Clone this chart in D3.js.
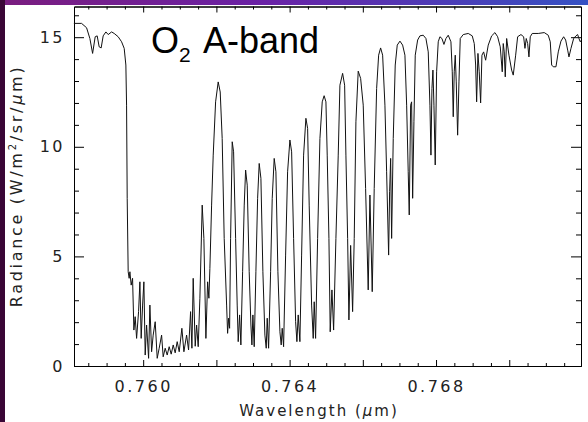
<!DOCTYPE html>
<html>
<head>
<meta charset="utf-8">
<script src="https://cdn.jsdelivr.net/npm/d3@7"></script>
<style>
  body { margin: 0; background: #fff; }
  svg { display: block; }
</style>
</head>
<body>
<div class="grafico"></div>
<script>
// wavelength (um)
const wavelength = [
  0.758107,0.758317,0.758454,0.758544,0.758618,0.758689,0.758743,0.758798,0.758852,0.758907,
  0.758981,0.759044,0.759137,0.759208,0.759317,0.759410,0.759481,0.759527,0.759546,0.759563,
  0.759590,0.759617,0.759637,0.759672,0.759710,0.759746,0.759781,0.759820,0.759874,0.759910,
  0.759945,0.759984,0.760019,0.760055,0.760093,0.760148,0.760183,0.760230,0.760273,0.760328,
  0.760383,0.760437,0.760503,0.760546,0.760601,0.760656,0.760710,0.760765,0.760820,0.760874,
  0.760929,0.760984,0.761057,0.761112,0.761186,0.761240,0.761295,0.761331,0.761366,0.761421,
  0.761459,0.761503,0.761549,0.761612,0.761658,0.761713,0.761760,0.761795,0.761822,0.761869,
  0.761913,0.761978,0.762049,0.762104,0.762158,0.762213,0.762279,0.762306,0.762333,0.762361,
  0.762388,0.762432,0.762470,0.762525,0.762568,0.762596,0.762634,0.762669,0.762716,0.762760,
  0.762798,0.762842,0.762896,0.762943,0.762970,0.762997,0.763033,0.763079,0.763126,0.763169,
  0.763216,0.763270,0.763325,0.763361,0.763388,0.763426,0.763481,0.763525,0.763579,0.763626,
  0.763680,0.763735,0.763770,0.763798,0.763836,0.763891,0.763945,0.764008,0.764055,0.764109,
  0.764164,0.764199,0.764235,0.764281,0.764328,0.764382,0.764445,0.764492,0.764535,0.764601,
  0.764645,0.764672,0.764710,0.764765,0.764828,0.764891,0.764943,0.764992,0.765027,0.765074,
  0.765109,0.765156,0.765202,0.765265,0.765328,0.765374,0.765448,0.765503,0.765538,0.765585,
  0.765620,0.765667,0.765721,0.765765,0.765811,0.765874,0.765940,0.766011,0.766076,0.766147,
  0.766194,0.766257,0.766311,0.766377,0.766432,0.766486,0.766541,0.766604,0.766650,0.766705,
  0.766732,0.766760,0.766787,0.766831,0.766885,0.766940,0.767014,0.767087,0.767150,0.767197,
  0.767240,0.767268,0.767306,0.767333,0.767361,0.767396,0.767432,0.767497,0.767560,0.767650,
  0.767724,0.767787,0.767833,0.767861,0.767888,0.767915,0.767943,0.767978,0.768016,0.768060,
  0.768106,0.768161,0.768216,0.768270,0.768333,0.768407,0.768443,0.768470,0.768497,0.768525,
  0.768552,0.768590,0.768626,0.768661,0.768743,0.768880,0.768989,0.769044,0.769082,0.769109,
  0.769145,0.769180,0.769218,0.769254,0.769300,0.769355,0.769426,0.769519,0.769609,0.769683,
  0.769754,0.769809,0.769836,0.769863,0.769891,0.769929,0.769992,0.770065,0.770109,0.770175,
  0.770229,0.770320,0.770393,0.770429,0.770464,0.770503,0.770538,0.770574,0.770628,0.770792,
  0.770956,0.771065,0.771120,0.771158,0.771202,0.771276,0.771339,0.771412,0.771486,0.771541,
  0.771596,0.771631,0.771686,0.771759,0.771822,0.771869,0.771904,0.771940,0.771959
];
// radiance (W/m2/sr/um)
const radiance = [
  15.63,15.63,15.43,14.94,14.26,15.02,15.06,14.56,14.51,15.06,
  15.24,15.12,15.24,15.17,15.02,14.79,14.49,13.73,11.90,7.65,
  4.30,4.00,4.30,3.69,4.00,1.64,2.25,1.26,2.48,3.84,
  1.26,2.78,3.84,0.50,1.87,0.35,2.78,0.65,1.41,2.02,
  0.35,0.81,1.41,0.42,0.81,0.50,0.88,0.54,0.96,0.60,
  1.11,0.65,1.72,0.65,1.41,0.73,2.48,0.81,4.00,0.90,
  1.87,0.88,3.09,7.34,5.82,1.26,3.84,3.09,4.45,7.34,
  9.62,12.05,12.96,12.50,10.38,5.82,2.78,1.49,2.18,1.72,
  5.82,10.23,9.77,5.82,2.78,1.11,2.33,0.96,4.30,7.34,
  8.94,8.25,4.30,1.87,0.96,2.33,0.88,4.30,7.65,9.24,
  8.56,4.30,1.41,0.81,2.18,0.81,4.30,7.65,9.47,8.86,
  4.30,1.56,0.96,1.72,0.88,5.06,8.86,10.31,9.77,5.82,
  2.02,1.11,2.33,1.11,5.06,9.62,11.30,10.84,7.34,2.78,
  1.26,2.93,1.26,5.82,10.38,12.05,12.33,12.05,9.62,5.82,
  1.56,3.47,1.64,5.82,9.62,12.81,13.35,12.81,9.62,5.82,
  2.10,5.50,2.48,5.82,11.14,13.45,13.12,11.90,8.10,3.47,
  7.80,3.39,8.10,12.66,14.18,14.51,14.18,11.90,8.86,5.06,
  7.95,9.47,5.82,10.38,13.73,14.64,14.82,14.64,14.18,11.90,
  8.86,6.89,11.90,12.05,7.65,11.14,14.18,14.87,15.06,15.09,
  14.94,14.33,11.90,9.62,12.66,13.50,11.90,9.17,13.42,14.79,
  15.02,14.94,14.67,14.94,15.09,14.79,13.42,11.37,13.42,14.18,
  12.96,10.53,12.96,14.94,15.12,15.17,15.06,14.71,13.73,12.05,
  14.26,13.42,12.00,14.18,14.33,13.95,14.64,15.06,15.21,15.02,
  14.56,13.42,14.71,14.33,13.19,14.94,14.18,13.50,13.27,14.18,
  15.02,15.12,15.02,14.49,14.94,14.71,14.10,15.02,15.17,15.17,
  15.21,15.09,14.79,13.73,13.65,13.65,14.33,14.82,15.02,14.87,
  14.41,14.10,14.49,14.94,15.06,15.12,14.94,14.79,14.85
];
const yMajor = [0, 5, 10, 15];
const yMinor = [1,2,3,4,6,7,8,9,11,12,13,14,16];
const xMajor = [0.760, 0.762, 0.764, 0.766, 0.768, 0.770];
const xLabeled = [0.760, 0.764, 0.768];
const xMinor = [0.7585,0.759,0.7595,0.7605,0.761,0.7615,0.7625,0.763,0.7635,0.7645,0.765,0.7655,
                0.7665,0.767,0.7675,0.7685,0.769,0.7695,0.7705,0.771,0.7715];

var W = 588, H = 422;
var margin = {top: 6.5, right: 7, bottom: 56, left: 74};
var width = W - margin.left - margin.right,
    height = H - margin.top - margin.bottom;

var svg = d3.select(".grafico").append("svg")
  .attr("width", W).attr("height", H);

// slide background strips
var defs = svg.append("defs");
var gTop = defs.append("linearGradient").attr("id", "gTop");
gTop.append("stop").attr("offset", "0%").attr("stop-color", "#7a1d7e");
gTop.append("stop").attr("offset", "45%").attr("stop-color", "#6a22a6");
gTop.append("stop").attr("offset", "100%").attr("stop-color", "#3552c4");
svg.append("rect").attr("width", W).attr("height", H).attr("fill", "#fff");
svg.append("rect").attr("width", W).attr("height", 5).attr("fill", "url(#gTop)");
svg.append("rect").attr("width", 5).attr("height", H).attr("fill", "#3a0636");

var g = svg.append("g")
  .attr("transform", "translate(" + margin.left + "," + margin.top + ")");

var x = d3.scaleLinear().domain([0.75811, 0.77196]).range([0, width]);
var y = d3.scaleLinear().domain([0, 16.4]).range([height, 0]);

var tickFont = "DejaVu Sans, sans-serif";

function styleAxis(sel) {
  sel.select(".domain").attr("stroke", "#000").attr("stroke-width", 1);
  sel.selectAll(".tick line").attr("stroke", "#000");
  sel.selectAll("text")
    .attr("font-family", tickFont)
    .attr("font-size", 16)
    .attr("letter-spacing", "2.5px")
    .attr("fill", "#222");
}

// bottom
g.append("g").attr("transform", "translate(0," + height + ")")
  .call(d3.axisBottom(x).tickValues(xMinor).tickSize(-3).tickSizeOuter(0).tickFormat(""))
  .call(styleAxis);
g.append("g").attr("transform", "translate(0," + height + ")")
  .call(d3.axisBottom(x).tickValues(xMajor).tickSize(-6).tickSizeOuter(0).tickPadding(15)
    .tickFormat(d => xLabeled.some(v => Math.abs(v - d) < 1e-9) ? d3.format(".3f")(d) : ""))
  .call(styleAxis);
// top
g.append("g")
  .call(d3.axisTop(x).tickValues(xMinor).tickSize(-3).tickSizeOuter(0).tickFormat(""))
  .call(styleAxis);
g.append("g")
  .call(d3.axisTop(x).tickValues(xMajor).tickSize(-6).tickSizeOuter(0).tickFormat(""))
  .call(styleAxis);
// left
g.append("g")
  .call(d3.axisLeft(y).tickValues(yMinor).tickSize(-5).tickSizeOuter(0).tickFormat(""))
  .call(styleAxis);
g.append("g")
  .call(d3.axisLeft(y).tickValues(yMajor).tickSize(-10).tickSizeOuter(0).tickPadding(9))
  .call(styleAxis);
// right
g.append("g").attr("transform", "translate(" + width + ",0)")
  .call(d3.axisRight(y).tickValues(yMinor).tickSize(-5).tickSizeOuter(0).tickFormat(""))
  .call(styleAxis);
g.append("g").attr("transform", "translate(" + width + ",0)")
  .call(d3.axisRight(y).tickValues(yMajor).tickSize(-10).tickSizeOuter(0).tickFormat(""))
  .call(styleAxis);

// spectrum
var datos = wavelength.map((w, i) => ({w: w, r: radiance[i]}));
var line = d3.line().x(d => x(d.w)).y(d => y(d.r));
g.append("path")
  .datum(datos)
  .attr("fill", "none")
  .attr("stroke", "#111")
  .attr("stroke-width", 1)
  .attr("d", line);

// axis titles
var xt = svg.append("text")
  .attr("x", 319).attr("y", 416)
  .attr("text-anchor", "middle")
  .attr("font-family", tickFont).attr("font-size", 15)
  .attr("letter-spacing", "2px").attr("fill", "#222");
xt.append("tspan").text("Wavelength (");
xt.append("tspan").attr("font-style", "italic").text("\u03bc");
xt.append("tspan").text("m)");

var yt = svg.append("text")
  .attr("transform", "translate(22,186) rotate(-90)")
  .attr("text-anchor", "middle")
  .attr("font-family", tickFont).attr("font-size", 16)
  .attr("letter-spacing", "2.7px").attr("fill", "#222");
yt.append("tspan").text("Radiance (W/m");
yt.append("tspan").attr("font-size", 10).attr("dy", -6).text("2");
yt.append("tspan").attr("dy", 6).text("/sr/");
yt.append("tspan").attr("font-style", "italic").text("\u03bc");
yt.append("tspan").text("m)");

// title
var tt = svg.append("text")
  .attr("x", 151).attr("y", 53)
  .attr("font-family", "Liberation Sans, Arial, sans-serif")
  .attr("font-size", 36).attr("fill", "#000");
tt.append("tspan").text("O");
tt.append("tspan").attr("font-size", 21).attr("dy", 9).text("2");
tt.append("tspan").attr("x", 203).attr("dy", -9).text("A-band");
</script>
</body>
</html>
